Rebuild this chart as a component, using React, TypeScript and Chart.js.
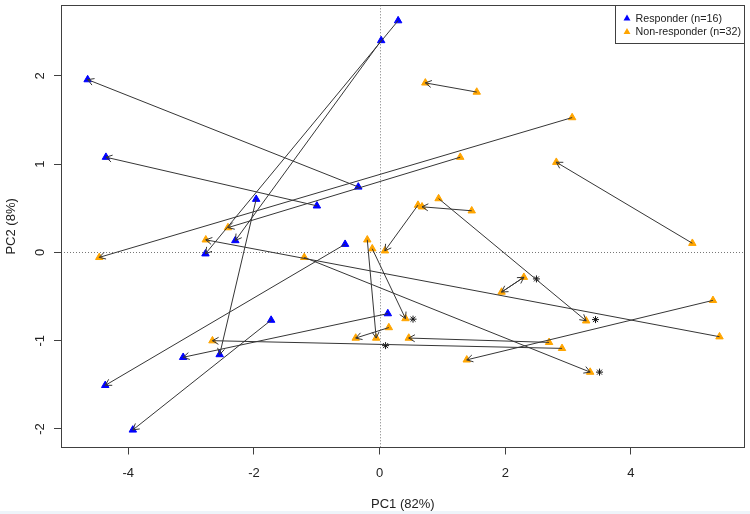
import React, { useEffect, useRef } from "react";
import { Chart, registerables } from "chart.js";

Chart.register(...registerables);

// ---- data ----
const responderX = [0.295, -2.771, 0.025, -2.296, -0.339, -4.646, -0.998, -4.355, -1.964, -2.545, -0.549, -4.366, -1.726, -3.927, 0.131, -3.126];
const responderY = [2.626, -0.015, 2.401, 0.135, 0.742, 1.958, 0.528, 1.079, 0.603, -1.157, 0.093, -1.506, -0.767, -2.011, -0.693, -1.188];
const responderArrowFrom = [0, 2, 4, 6, 8, 10, 12, 14];
const responderArrowTo = [1, 3, 5, 7, 9, 11, 13, 15];

const nonResponderX = [3.064, -4.461, 1.283, -2.413, 1.546, 0.728, 4.977, 2.812, 1.466, 0.675, 0.611, 0.084, 0.939, 3.287, 5.409, -2.766, -1.199, 3.351, 5.305, 1.387, 2.697, 0.464, 2.903, -2.66, 1.941, 2.296, -0.196, -0.054, -0.117, 0.412, 0.147, -0.38];
const nonResponderY = [1.528, -0.056, 1.079, 0.281, 1.817, 1.921, 0.104, 1.022, 0.472, 0.517, 0.536, 0.019, 0.61, -0.775, -0.955, 0.143, -0.056, -1.356, -0.543, -1.217, -1.019, -0.97, -1.087, -1.0, -0.449, -0.281, 0.143, -0.97, 0.042, -0.749, -0.851, -0.97];
const nonResponderArrowFrom = [0, 2, 4, 6, 8, 10, 12, 14, 16, 18, 20, 22, 24, 26, 28, 30, 25];
const nonResponderArrowTo = [1, 3, 5, 7, 9, 11, 13, 15, 17, 19, 21, 23, 25, 27, 29, 31, 24];

const starX = [2.496, 0.532, 3.436, 0.095, 3.5];
const starY = [-0.3, -0.756, -0.761, -1.056, -1.356];

const xTicks = [-4, -2, 0, 2, 4];
const yTicks = [-2, -1, 0, 1, 2];
const xRange = [-5.07, 5.81];
const yRange = [-2.21, 2.8];

const seriesLabels = ["Responder (n=16)", "Non-responder (n=32)"];
const xTitle = "PC1 (82%)";
const yTitle = "PC2 (8%)";

const FONT = "'Liberation Sans', Arial, Helvetica, sans-serif";
const BLUE = "#0000ff";
const ORANGE = "#ffa500";
const INK = "#222222";
const FRAME = "#404040";

const toPoints = (xs: number[], ys: number[]) => xs.map((x, i) => ({ x, y: ys[i] }));

const backgroundPlugin = {
  id: "bg",
  beforeDraw(chart: any) {
    const { ctx, width, height } = chart;
    ctx.save();
    ctx.fillStyle = "#ffffff";
    ctx.fillRect(0, 0, width, height);
    ctx.fillStyle = "#eef4fa";
    ctx.fillRect(0, height - 3, width, 3);
    ctx.restore();
  },
};

const zeroLinesPlugin = {
  id: "zeroLines",
  beforeDatasetsDraw(chart: any) {
    const { ctx, chartArea: a, scales } = chart;
    const x0 = Math.round(scales.x.getPixelForValue(0)) + 0.5;
    const y0 = Math.round(scales.y.getPixelForValue(0)) + 0.5;
    ctx.save();
    ctx.strokeStyle = "#777777";
    ctx.lineWidth = 1;
    ctx.setLineDash([1, 2]);
    ctx.beginPath();
    ctx.moveTo(x0, a.top);
    ctx.lineTo(x0, a.bottom);
    ctx.moveTo(a.left, y0);
    ctx.lineTo(a.right, y0);
    ctx.stroke();
    ctx.restore();
  },
};

function drawArrows(chart: any, xs: number[], ys: number[], from: number[], to: number[]) {
  const { ctx, scales } = chart;
  const len = 7;
  const head = Math.PI / 6;
  from.forEach((fi, k) => {
    const ti = to[k];
    const x0 = scales.x.getPixelForValue(xs[fi]);
    const y0 = scales.y.getPixelForValue(ys[fi]);
    const x1 = scales.x.getPixelForValue(xs[ti]);
    const y1 = scales.y.getPixelForValue(ys[ti]);
    const ang = Math.atan2(y1 - y0, x1 - x0);
    ctx.beginPath();
    ctx.moveTo(x0, y0);
    ctx.lineTo(x1, y1);
    ctx.moveTo(x1 + len * Math.cos(ang + Math.PI - head), y1 + len * Math.sin(ang + Math.PI - head));
    ctx.lineTo(x1, y1);
    ctx.lineTo(x1 + len * Math.cos(ang + Math.PI + head), y1 + len * Math.sin(ang + Math.PI + head));
    ctx.stroke();
  });
}

const arrowsPlugin = {
  id: "arrows",
  afterDatasetsDraw(chart: any) {
    const { ctx } = chart;
    ctx.save();
    ctx.strokeStyle = "#363636";
    ctx.lineWidth = 1;
    drawArrows(chart, responderX, responderY, responderArrowFrom, responderArrowTo);
    drawArrows(chart, nonResponderX, nonResponderY, nonResponderArrowFrom, nonResponderArrowTo);
    ctx.restore();
  },
};

function triangle(ctx: any, x: number, y: number, r: number, color: string) {
  ctx.beginPath();
  ctx.moveTo(x, y - r);
  ctx.lineTo(x + r * 0.866, y + r * 0.5);
  ctx.lineTo(x - r * 0.866, y + r * 0.5);
  ctx.closePath();
  ctx.fillStyle = color;
  ctx.fill();
}

const framePlugin = {
  id: "frame",
  afterDraw(chart: any) {
    const { ctx, chartArea: a } = chart;
    ctx.save();
    ctx.strokeStyle = FRAME;
    ctx.lineWidth = 1;
    const l = Math.round(a.left) + 0.5;
    const t = Math.round(a.top) + 0.5;
    const r = Math.round(a.right) - 0.5;
    const b = Math.round(a.bottom) - 0.5;
    ctx.strokeRect(l, t, r - l, b - t);

    // legend (top-right inside the plot box)
    const lw = 129;
    const lh = 38;
    const lx = r - lw;
    ctx.fillStyle = "#ffffff";
    ctx.fillRect(lx, t, lw, lh);
    ctx.strokeRect(lx, t, lw, lh);
    const colors = [BLUE, ORANGE];
    ctx.font = `10.7px ${FONT}`;
    ctx.textBaseline = "middle";
    ctx.textAlign = "left";
    chart.data.datasets.slice(0, 2).forEach((ds: any, i: number) => {
      const cy = t + 13 + i * 13.5;
      triangle(ctx, lx + 11.5, cy, 4, colors[i]);
      ctx.fillStyle = INK;
      ctx.fillText(ds.label, lx + 20, cy + 0.5);
    });
    ctx.restore();
  },
};

export default function App() {
  const ref = useRef<HTMLCanvasElement>(null);

  useEffect(() => {
    if (!ref.current) return;
    const chart = new Chart(ref.current, {
      type: "scatter",
      data: {
        datasets: [
          {
            label: seriesLabels[0],
            data: toPoints(responderX, responderY),
            pointStyle: "triangle",
            pointRadius: 4.3,
            pointBorderWidth: 1,
            backgroundColor: BLUE,
            borderColor: BLUE,
          },
          {
            label: seriesLabels[1],
            data: toPoints(nonResponderX, nonResponderY),
            pointStyle: "triangle",
            pointRadius: 4.3,
            pointBorderWidth: 1,
            backgroundColor: ORANGE,
            borderColor: ORANGE,
          },
          {
            label: "marker",
            data: toPoints(starX, starY),
            pointStyle: "star",
            pointRadius: 3.5,
            pointBorderWidth: 1,
            backgroundColor: "#111",
            borderColor: "#111",
          },
        ],
      },
      options: {
        responsive: false,
        animation: false,
        devicePixelRatio: 1,
        layout: { padding: { left: 0, top: 2, right: 2.5, bottom: 0 } },
        plugins: {
          legend: { display: false },
          tooltip: { enabled: false },
        },
        scales: {
          x: {
            type: "linear",
            min: xRange[0],
            max: xRange[1],
            afterBuildTicks: (s: any) => {
              s.ticks = xTicks.map((v) => ({ value: v }));
            },
            afterFit: (s: any) => {
              s.height = 66.5;
              s.paddingLeft = 0;
              s.paddingRight = 0;
            },
            ticks: {
              font: { size: 13, family: FONT },
              color: INK,
              padding: 11,
              maxRotation: 0,
              autoSkip: false,
            },
            grid: {
              display: true,
              drawOnChartArea: false,
              drawTicks: true,
              tickLength: 7,
              tickColor: FRAME,
              tickWidth: 1,
            },
            border: { display: false },
            title: {
              display: true,
              text: xTitle,
              font: { size: 13, family: FONT },
              color: INK,
              padding: { top: 0, bottom: 2 },
            },
          },
          y: {
            type: "linear",
            min: yRange[0],
            max: yRange[1],
            afterBuildTicks: (s: any) => {
              s.ticks = yTicks.map((v) => ({ value: v }));
            },
            afterFit: (s: any) => {
              s.width = 61;
              s.paddingTop = 0;
              s.paddingBottom = 0;
            },
            ticks: {
              font: { size: 13, family: FONT },
              color: INK,
              padding: 8,
              minRotation: 90,
              maxRotation: 90,
              crossAlign: "center",
              autoSkip: false,
            },
            grid: {
              display: true,
              drawOnChartArea: false,
              drawTicks: true,
              tickLength: 7,
              tickColor: FRAME,
              tickWidth: 1,
            },
            border: { display: false },
            title: {
              display: true,
              text: yTitle,
              font: { size: 13, family: FONT },
              color: INK,
              padding: { top: 4, bottom: 0 },
            },
          },
        },
      },
      plugins: [backgroundPlugin, zeroLinesPlugin, arrowsPlugin, framePlugin],
    } as any);
    return () => chart.destroy();
  }, []);

  return (
    <div style={{ position: "fixed", left: 0, top: 0, width: 750, height: 514, background: "#ffffff" }}>
      <canvas ref={ref} width={750} height={514} style={{ display: "block", width: 750, height: 514 }} />
    </div>
  );
}
